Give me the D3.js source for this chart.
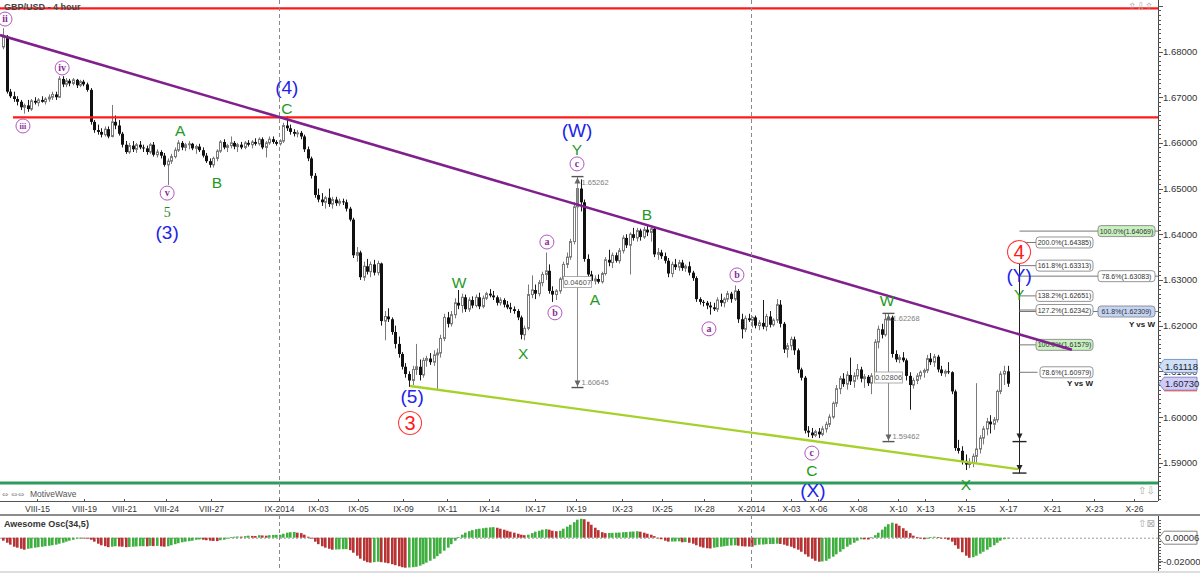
<!DOCTYPE html>
<html><head><meta charset="utf-8">
<script src="https://cdn.jsdelivr.net/npm/d3@7"></script>
<style>
body{margin:0;background:#fff;}
svg{display:block;font-family:"Liberation Sans",Arial,sans-serif;}
</style></head>
<body><svg id="c" width="1200" height="573"></svg>
<script>
// ---------------- DATA ----------------
// 4-hour candles [open, high, low, close]
const candles = [
[1.6810,1.6851,1.6805,1.6832],[1.6832,1.6836,1.6708,1.6712],[1.6712,1.6718,1.6698,1.6702],[1.6702,1.6712,1.6690,1.6696],[1.6696,1.6702,1.6682,1.6690],[1.6690,1.6694,1.6672,1.6678],
[1.6678,1.6686,1.6664,1.6682],[1.6682,1.6694,1.6668,1.6674],[1.6674,1.6696,1.6670,1.6692],[1.6692,1.6700,1.6684,1.6688],[1.6688,1.6698,1.6680,1.6694],[1.6694,1.6702,1.6688,1.6690],
[1.6690,1.6700,1.6684,1.6696],[1.6696,1.6706,1.6690,1.6700],[1.6700,1.6712,1.6694,1.6706],[1.6706,1.6712,1.6694,1.6700],[1.6700,1.6746,1.6698,1.6740],[1.6740,1.6746,1.6722,1.6728],
[1.6728,1.6742,1.6722,1.6736],[1.6736,1.6740,1.6724,1.6730],[1.6730,1.6742,1.6726,1.6738],[1.6738,1.6740,1.6720,1.6726],[1.6726,1.6738,1.6722,1.6734],[1.6734,1.6738,1.6724,1.6728],
[1.6728,1.6732,1.6712,1.6716],[1.6716,1.6720,1.6640,1.6646],[1.6646,1.6650,1.6622,1.6628],[1.6628,1.6640,1.6618,1.6624],[1.6624,1.6632,1.6612,1.6618],[1.6618,1.6636,1.6614,1.6630],
[1.6630,1.6636,1.6610,1.6614],[1.6614,1.6683,1.6612,1.6646],[1.6646,1.6660,1.6630,1.6638],[1.6638,1.6650,1.6616,1.6620],[1.6620,1.6624,1.6590,1.6596],[1.6596,1.6604,1.6576,1.6580],
[1.6580,1.6600,1.6576,1.6594],[1.6594,1.6604,1.6580,1.6586],[1.6586,1.6600,1.6578,1.6596],[1.6596,1.6604,1.6586,1.6590],[1.6590,1.6596,1.6580,1.6588],[1.6588,1.6594,1.6574,1.6580],
[1.6580,1.6600,1.6576,1.6596],[1.6596,1.6602,1.6570,1.6574],[1.6574,1.6586,1.6568,1.6580],[1.6580,1.6584,1.6566,1.6572],[1.6572,1.6578,1.6548,1.6552],[1.6552,1.6566,1.6508,1.6560],
[1.6560,1.6576,1.6554,1.6570],[1.6570,1.6590,1.6566,1.6584],[1.6584,1.6606,1.6580,1.6600],[1.6600,1.6604,1.6584,1.6590],[1.6590,1.6600,1.6582,1.6596],[1.6596,1.6604,1.6586,1.6598],
[1.6598,1.6600,1.6584,1.6588],[1.6588,1.6596,1.6576,1.6592],[1.6592,1.6598,1.6580,1.6584],[1.6584,1.6590,1.6568,1.6572],[1.6572,1.6578,1.6556,1.6560],[1.6560,1.6566,1.6546,1.6552],
[1.6552,1.6570,1.6546,1.6566],[1.6566,1.6586,1.6560,1.6582],[1.6582,1.6606,1.6578,1.6602],[1.6602,1.6608,1.6586,1.6590],[1.6590,1.6598,1.6580,1.6594],[1.6594,1.6614,1.6588,1.6600],
[1.6600,1.6604,1.6586,1.6592],[1.6592,1.6600,1.6580,1.6596],[1.6596,1.6602,1.6586,1.6590],[1.6590,1.6604,1.6586,1.6600],[1.6600,1.6606,1.6592,1.6596],[1.6596,1.6606,1.6588,1.6602],
[1.6602,1.6610,1.6594,1.6598],[1.6598,1.6612,1.6594,1.6608],[1.6608,1.6612,1.6586,1.6590],[1.6590,1.6604,1.6568,1.6600],[1.6600,1.6614,1.6596,1.6608],[1.6608,1.6614,1.6598,1.6602],
[1.6602,1.6606,1.6594,1.6598],[1.6598,1.6608,1.6594,1.6604],[1.6604,1.6644,1.6600,1.6638],[1.6638,1.6658,1.6626,1.6632],[1.6632,1.6640,1.6618,1.6624],[1.6624,1.6630,1.6614,1.6620],
[1.6620,1.6628,1.6612,1.6622],[1.6622,1.6626,1.6608,1.6614],[1.6614,1.6618,1.6580,1.6586],[1.6586,1.6592,1.6560,1.6566],[1.6566,1.6570,1.6522,1.6528],[1.6528,1.6534,1.6480,1.6486],
[1.6486,1.6500,1.6470,1.6476],[1.6476,1.6490,1.6462,1.6470],[1.6470,1.6484,1.6456,1.6480],[1.6480,1.6500,1.6460,1.6466],[1.6466,1.6482,1.6456,1.6476],[1.6476,1.6482,1.6462,1.6468],
[1.6468,1.6478,1.6462,1.6472],[1.6472,1.6478,1.6464,1.6470],[1.6470,1.6476,1.6450,1.6456],[1.6456,1.6460,1.6428,1.6432],[1.6432,1.6436,1.6348,1.6354],[1.6354,1.6372,1.6340,1.6360],
[1.6360,1.6364,1.6300,1.6306],[1.6306,1.6340,1.6298,1.6330],[1.6330,1.6346,1.6312,1.6318],[1.6318,1.6340,1.6306,1.6334],[1.6334,1.6344,1.6310,1.6316],[1.6316,1.6342,1.6310,1.6336],
[1.6336,1.6338,1.6200,1.6210],[1.6210,1.6232,1.6168,1.6220],[1.6220,1.6238,1.6208,1.6214],[1.6214,1.6218,1.6180,1.6186],[1.6186,1.6200,1.6150,1.6160],[1.6160,1.6176,1.6130,1.6138],
[1.6138,1.6142,1.6104,1.6110],[1.6110,1.6118,1.6086,1.6094],[1.6094,1.6100,1.6066,1.6080],[1.6080,1.6112,1.6070,1.6104],[1.6104,1.6160,1.6092,1.6110],[1.6110,1.6126,1.6080,1.6092],
[1.6092,1.6130,1.6086,1.6124],[1.6124,1.6134,1.6110,1.6128],[1.6128,1.6140,1.6114,1.6120],[1.6120,1.6146,1.6112,1.6136],[1.6136,1.6150,1.6060,1.6140],[1.6140,1.6180,1.6130,1.6172],
[1.6172,1.6226,1.6166,1.6218],[1.6218,1.6230,1.6196,1.6204],[1.6204,1.6232,1.6198,1.6224],[1.6224,1.6260,1.6216,1.6250],[1.6250,1.6278,1.6236,1.6244],[1.6244,1.6270,1.6228,1.6262],
[1.6262,1.6268,1.6230,1.6236],[1.6236,1.6262,1.6230,1.6256],[1.6256,1.6264,1.6238,1.6244],[1.6244,1.6268,1.6240,1.6262],[1.6262,1.6272,1.6236,1.6242],[1.6242,1.6266,1.6238,1.6260],
[1.6260,1.6274,1.6256,1.6270],[1.6270,1.6280,1.6262,1.6266],[1.6266,1.6276,1.6256,1.6262],[1.6262,1.6266,1.6244,1.6250],[1.6250,1.6262,1.6244,1.6256],[1.6256,1.6260,1.6240,1.6246],
[1.6246,1.6254,1.6236,1.6240],[1.6240,1.6250,1.6228,1.6236],[1.6236,1.6242,1.6226,1.6232],[1.6232,1.6236,1.6212,1.6218],[1.6218,1.6222,1.6170,1.6180],[1.6180,1.6200,1.6168,1.6194],
[1.6194,1.6290,1.6190,1.6268],[1.6268,1.6310,1.6260,1.6278],[1.6278,1.6290,1.6258,1.6270],[1.6270,1.6300,1.6264,1.6294],[1.6294,1.6318,1.6286,1.6312],[1.6312,1.6360,1.6300,1.6320],
[1.6320,1.6334,1.6270,1.6276],[1.6276,1.6286,1.6252,1.6268],[1.6268,1.6280,1.6256,1.6276],[1.6276,1.6306,1.6270,1.6302],[1.6302,1.6340,1.6296,1.6334],[1.6334,1.6360,1.6326,1.6350],
[1.6350,1.6390,1.6344,1.6384],[1.6384,1.6470,1.6378,1.6460],[1.6460,1.6526,1.6440,1.6500],[1.6500,1.6520,1.6450,1.6470],[1.6470,1.6476,1.6340,1.6346],[1.6346,1.6356,1.6306,1.6312],
[1.6312,1.6320,1.6292,1.6298],[1.6298,1.6310,1.6290,1.6302],[1.6302,1.6312,1.6292,1.6296],[1.6296,1.6318,1.6292,1.6314],[1.6314,1.6350,1.6310,1.6344],[1.6344,1.6366,1.6330,1.6338],
[1.6338,1.6360,1.6326,1.6354],[1.6354,1.6360,1.6338,1.6342],[1.6342,1.6370,1.6336,1.6364],[1.6364,1.6398,1.6358,1.6392],[1.6392,1.6400,1.6370,1.6376],[1.6376,1.6404,1.6312,1.6400],
[1.6400,1.6414,1.6386,1.6392],[1.6392,1.6414,1.6384,1.6408],[1.6408,1.6412,1.6386,1.6394],[1.6394,1.6416,1.6390,1.6410],[1.6410,1.6420,1.6396,1.6404],[1.6404,1.6418,1.6384,1.6412],
[1.6412,1.6418,1.6350,1.6356],[1.6356,1.6370,1.6344,1.6360],[1.6360,1.6366,1.6346,1.6352],[1.6352,1.6360,1.6336,1.6342],[1.6342,1.6348,1.6306,1.6314],[1.6314,1.6340,1.6306,1.6334],
[1.6334,1.6346,1.6322,1.6328],[1.6328,1.6344,1.6320,1.6338],[1.6338,1.6344,1.6320,1.6326],[1.6326,1.6334,1.6318,1.6330],[1.6330,1.6340,1.6310,1.6316],[1.6316,1.6320,1.6298,1.6304],
[1.6304,1.6308,1.6252,1.6258],[1.6258,1.6262,1.6246,1.6252],[1.6252,1.6256,1.6242,1.6250],[1.6250,1.6254,1.6236,1.6244],[1.6244,1.6252,1.6224,1.6240],[1.6240,1.6250,1.6232,1.6236],
[1.6236,1.6262,1.6230,1.6256],[1.6256,1.6270,1.6242,1.6250],[1.6250,1.6262,1.6240,1.6258],[1.6258,1.6276,1.6252,1.6270],[1.6270,1.6274,1.6250,1.6258],[1.6258,1.6288,1.6254,1.6276],
[1.6276,1.6280,1.6206,1.6214],[1.6214,1.6226,1.6172,1.6192],[1.6192,1.6222,1.6186,1.6216],[1.6216,1.6226,1.6208,1.6212],[1.6212,1.6220,1.6196,1.6218],[1.6218,1.6222,1.6194,1.6200],
[1.6200,1.6212,1.6190,1.6206],[1.6206,1.6256,1.6192,1.6198],[1.6198,1.6226,1.6188,1.6220],[1.6220,1.6232,1.6196,1.6202],[1.6202,1.6216,1.6198,1.6212],[1.6212,1.6258,1.6206,1.6246],
[1.6246,1.6256,1.6196,1.6204],[1.6204,1.6208,1.6140,1.6148],[1.6148,1.6162,1.6130,1.6156],[1.6156,1.6176,1.6146,1.6170],[1.6170,1.6176,1.6136,1.6146],[1.6146,1.6150,1.6096,1.6104],
[1.6104,1.6108,1.6080,1.6086],[1.6086,1.6090,1.5964,1.5970],[1.5970,1.5980,1.5956,1.5966],[1.5966,1.5976,1.5954,1.5960],[1.5960,1.5972,1.5956,1.5968],[1.5968,1.5976,1.5954,1.5962],
[1.5962,1.5980,1.5958,1.5974],[1.5974,1.5990,1.5966,1.5984],[1.5984,1.6006,1.5978,1.6000],[1.6000,1.6034,1.5996,1.6030],[1.6030,1.6070,1.6022,1.6062],[1.6062,1.6090,1.6050,1.6084],
[1.6084,1.6096,1.6066,1.6072],[1.6072,1.6100,1.6060,1.6092],[1.6092,1.6130,1.6070,1.6078],[1.6078,1.6098,1.6064,1.6090],[1.6090,1.6116,1.6082,1.6104],[1.6104,1.6110,1.6076,1.6084],
[1.6084,1.6094,1.6064,1.6088],[1.6088,1.6092,1.6068,1.6074],[1.6074,1.6096,1.6050,1.6090],[1.6090,1.6170,1.6086,1.6164],[1.6164,1.6200,1.6150,1.6192],[1.6192,1.6204,1.6172,1.6180],
[1.6180,1.6226,1.6176,1.6214],[1.6214,1.6227,1.6206,1.6218],[1.6218,1.6222,1.6130,1.6138],[1.6138,1.6146,1.6120,1.6126],[1.6126,1.6136,1.6118,1.6130],[1.6130,1.6142,1.6120,1.6124],
[1.6124,1.6128,1.6080,1.6090],[1.6090,1.6098,1.6016,1.6070],[1.6070,1.6086,1.6062,1.6080],[1.6080,1.6096,1.6072,1.6090],[1.6090,1.6102,1.6082,1.6098],[1.6098,1.6106,1.6086,1.6102],
[1.6102,1.6136,1.6096,1.6128],[1.6128,1.6140,1.6114,1.6120],[1.6120,1.6138,1.6110,1.6132],[1.6132,1.6136,1.6098,1.6104],[1.6104,1.6112,1.6090,1.6096],[1.6096,1.6104,1.6088,1.6100],
[1.6100,1.6120,1.6094,1.6098],[1.6098,1.6100,1.6050,1.6056],[1.6056,1.6060,1.5926,1.5932],[1.5932,1.5950,1.5920,1.5926],[1.5926,1.5936,1.5896,1.5904],[1.5904,1.5918,1.5884,1.5896],
[1.5896,1.5910,1.5888,1.5900],[1.5900,1.5920,1.5890,1.5914],[1.5914,1.6074,1.5900,1.5930],[1.5930,1.5960,1.5920,1.5954],[1.5954,1.5980,1.5940,1.5974],[1.5974,1.5998,1.5960,1.5990],
[1.5990,1.6004,1.5964,1.5984],[1.5984,1.6000,1.5972,1.5994],[1.5994,1.6060,1.5988,1.6056],[1.6056,1.6100,1.6050,1.6094],[1.6094,1.6112,1.6070,1.6100],[1.6100,1.6112,1.6066,1.6073]
];

// Awesome Oscillator (34,5) values, one per candle
const aoValues = [
-0.0025,-0.0042,-0.0058,-0.0075,-0.0083,-0.0092,-0.0100,-0.0092,-0.0088,-0.0083,-0.0079,-0.0075,
-0.0071,-0.0067,-0.0063,-0.0058,-0.0050,-0.0042,-0.0033,-0.0025,-0.0017,-0.0008,-0.0004,-0.0005,
-0.0008,-0.0017,-0.0033,-0.0050,-0.0063,-0.0071,-0.0079,-0.0075,-0.0071,-0.0073,-0.0075,-0.0079,
-0.0077,-0.0075,-0.0073,-0.0071,-0.0071,-0.0072,-0.0068,-0.0070,-0.0068,-0.0072,-0.0075,-0.0071,
-0.0063,-0.0054,-0.0046,-0.0038,-0.0033,-0.0029,-0.0025,-0.0017,-0.0015,-0.0017,-0.0021,-0.0025,
-0.0027,-0.0028,-0.0021,-0.0017,-0.0008,0.0004,0.0008,0.0010,0.0009,0.0013,0.0017,0.0015,
0.0014,0.0021,0.0019,0.0017,0.0021,0.0023,0.0024,0.0025,0.0033,0.0042,0.0046,0.0048,
0.0042,0.0038,0.0025,0.0008,-0.0008,-0.0033,-0.0054,-0.0071,-0.0083,-0.0092,-0.0100,-0.0098,
-0.0097,-0.0096,-0.0095,-0.0104,-0.0125,-0.0150,-0.0175,-0.0192,-0.0204,-0.0208,-0.0204,-0.0200,
-0.0204,-0.0208,-0.0213,-0.0221,-0.0229,-0.0238,-0.0246,-0.0250,-0.0248,-0.0246,-0.0242,-0.0233,
-0.0221,-0.0208,-0.0192,-0.0175,-0.0154,-0.0133,-0.0108,-0.0083,-0.0054,-0.0025,0.0004,0.0025,
0.0042,0.0054,0.0063,0.0071,0.0075,0.0079,0.0083,0.0086,0.0088,0.0083,0.0075,0.0067,
0.0058,0.0050,0.0042,0.0033,0.0025,0.0021,0.0025,0.0038,0.0050,0.0058,0.0067,0.0071,
0.0067,0.0058,0.0054,0.0058,0.0075,0.0092,0.0108,0.0129,0.0150,0.0158,0.0154,0.0133,
0.0108,0.0083,0.0063,0.0046,0.0038,0.0039,0.0040,0.0042,0.0043,0.0046,0.0047,0.0050,
0.0052,0.0054,0.0050,0.0042,0.0033,0.0025,0.0013,0.0000,-0.0013,-0.0025,-0.0033,-0.0032,
-0.0031,-0.0030,-0.0038,-0.0036,-0.0042,-0.0050,-0.0063,-0.0075,-0.0083,-0.0088,-0.0090,-0.0083,
-0.0079,-0.0075,-0.0071,-0.0067,-0.0065,-0.0063,-0.0067,-0.0071,-0.0073,-0.0074,-0.0075,-0.0063,
-0.0058,-0.0057,-0.0054,-0.0053,-0.0052,-0.0050,-0.0052,-0.0058,-0.0067,-0.0075,-0.0088,-0.0100,
-0.0117,-0.0138,-0.0158,-0.0175,-0.0192,-0.0200,-0.0198,-0.0192,-0.0175,-0.0158,-0.0138,-0.0117,
-0.0096,-0.0075,-0.0058,-0.0042,-0.0025,-0.0013,-0.0014,-0.0015,0.0003,0.0021,0.0042,0.0067,
0.0092,0.0113,0.0125,0.0117,0.0100,0.0079,0.0058,0.0038,0.0017,0.0004,-0.0008,-0.0013,
-0.0008,0.0004,0.0008,0.0004,-0.0004,-0.0008,-0.0017,-0.0033,-0.0063,-0.0092,-0.0121,-0.0150,
-0.0167,-0.0163,-0.0150,-0.0133,-0.0117,-0.0100,-0.0079,-0.0063,-0.0042,-0.0025,-0.0013,-0.0004
];

// time axis: labels and the candle index they sit at
const dateLabels = ["VIII-15","VIII-19","VIII-21","VIII-24","VIII-27","IX-2014","IX-03","IX-05","IX-09","IX-11","IX-14","IX-17","IX-19","IX-23","IX-25","IX-28","X-2014","X-03","X-06","X-08","X-10","X-13","X-15","X-17","X-21","X-23","X-26"];
const dateIdx = [9.7,23.1,34.6,46.6,59.4,78.9,90,101.4,114.3,126.9,138.9,152,163.7,176.9,188.3,200.3,213.7,225.1,232.9,244.3,255.7,263.4,275.1,287.1,299.7,311.7,323.1];
const monthStarts = ["IX-2014","X-2014"];

// price axis
const priceTicks = [1.59,1.60,1.61,1.62,1.63,1.64,1.65,1.66,1.67,1.68];
const lastPrices = [1.61118, 1.60730];
const aoTicks = [-0.02];
const aoLast = 0.00006;

// horizontal support / resistance levels
const redLevels = [1.68946, 1.66556];
const greenLevel = 1.58556;
// trend lines [idx, price] endpoints
const purpleLine = [[-0.86,1.6836],[305.4,1.6147]];
const limeLine = [[116.3,1.6068],[290.0,1.5886]];

// measurement tools [idx, highPrice, lowPrice, label]
const measures = [[164,1.65262,1.60645,"0.04607"],[252.9,1.62268,1.59462,"0.02806"]];

// Fibonacci extension tool at idx 290.3
const fibIdx = 290.3;
const fibBase = 1.58773, fibBaseB = 1.59462;
const fibPctA = ["78.6%","100.0%","127.2%","138.2%","161.8%","200.0%"];
const fibPriceA = [1.60979,1.61579,1.62342,1.62651,1.63313,1.64385];
// level at which the tool draws each column-A line on the chart
const fibDrawA = [1.60979,1.61579,1.62342,1.62651,1.63313,1.63820];
const fibPctB = ["61.8%","78.6%","100.0%"];
const fibPriceB = [1.62309,1.63083,1.64069];

// wave labels: [text, kind, idx, price]
const waveLabels = [
["ii","circ",0.57,1.6871],["iv","circ",16.9,1.6764],["iii","circ",5.7,1.6637],["v","circ",46.9,1.6490],
["5","serif",46.9,1.6449],["(3)","blue",46.9,1.6403],["A","green",50.6,1.6628],["B","green",61.1,1.6514],
["(4)","blue",81.1,1.6722],["C","green",81.1,1.6676],["W","green",130.3,1.6295],["X","green",148.6,1.6140],
["a","circ",155.4,1.6383],["b","circ",157.7,1.6228],["(W)","blue",164,1.6627],["Y","green",164,1.6586],
["c","circ",164,1.6554],["A","green",169.1,1.6258],["B","green",184,1.6444],["a","circ",201.7,1.6193],
["b","circ",209.7,1.6311],["c","circ",231.1,1.5921],["C","green",231.1,1.5884],["(X)","blue",231.4,1.5840],
["W","green",252.6,1.6256],["X","green",275.1,1.5853],["(5)","blue",116.9,1.6044],["3","red",116.3,1.5987],
["4","red",290.3,1.6361],["(Y)","blue",290.3,1.6309],["Y","green",290.3,1.6269]
];

// ---------------- DRAW ----------------
const svg = d3.select("#c");
const AX = 1158, MAIN_B = 501, OSC_T = 515, H = 573;
const x = d3.scaleLinear().domain([0, 287]).range([3, 1007.5]);
const y = d3.scaleLinear().domain([1.59, 1.68]).range([462.7, 51.5]);
const yo = d3.scaleLinear().domain([0, -0.02]).range([537.7, 561.7]);

const defs = svg.append("defs");
defs.append("clipPath").attr("id","cm").append("rect").attr("x",0).attr("y",0).attr("width",AX).attr("height",MAIN_B);
defs.append("clipPath").attr("id","co").append("rect").attr("x",0).attr("y",OSC_T+1).attr("width",AX).attr("height",H-OSC_T);

svg.append("rect").attr("width",1200).attr("height",573).attr("fill","#fff");

const main = svg.append("g").attr("clip-path","url(#cm)");
const osc = svg.append("g").attr("clip-path","url(#co)");

// month separators
monthStarts.forEach(m => {
  const xi = Math.round(x(dateIdx[dateLabels.indexOf(m)])) + 0.5;
  [[0,MAIN_B],[OSC_T,H]].forEach(([a,b]) =>
    svg.append("line").attr("x1",xi).attr("x2",xi).attr("y1",a).attr("y2",b)
      .attr("stroke","#8a8a8a").attr("stroke-dasharray","4,3").attr("stroke-width",1));
});

// candles
const cg = main.append("g");
candles.forEach((d,i) => {
  const [o,h,l,c] = d;
  const cx = Math.round(x(i));
  const up = c >= o;
  cg.append("line").attr("x1",cx+0.5).attr("x2",cx+0.5).attr("y1",y(h)).attr("y2",y(l))
    .attr("stroke", up ? "#7a7a7a" : "#1a1a1a").attr("stroke-width",1);
  const top = y(Math.max(o,c)), bot = y(Math.min(o,c));
  const hh = Math.max(1, bot-top);
  if (up) {
    cg.append("rect").attr("x",cx-0.5).attr("y",top).attr("width",2).attr("height",hh)
      .attr("fill","#fff").attr("stroke","#7a7a7a").attr("stroke-width",1);
  } else {
    cg.append("rect").attr("x",cx-1).attr("y",top).attr("width",3).attr("height",hh).attr("fill","#111");
  }
});

// horizontal levels
redLevels.forEach((p,k) => main.append("line").attr("x1", k===0 ? 0 : 13).attr("x2",AX)
  .attr("y1",y(p)).attr("y2",y(p)).attr("stroke","#ff1a1a").attr("stroke-width",2.2));
main.append("line").attr("x1",0).attr("x2",AX).attr("y1",y(greenLevel)).attr("y2",y(greenLevel))
  .attr("stroke","#2e9b5c").attr("stroke-width",3.2);

// measurement tools
function arrowHead(g, cx, yy, dir, col){
  g.append("path").attr("d",`M${cx},${yy} L${cx-3},${yy-dir*6} L${cx+3},${yy-dir*6} Z`).attr("fill",col);
}
measures.forEach(([mi,hp,lp,lab]) => {
  const cx = Math.round(x(mi)) + 0.5, yt = y(hp), yb = y(lp);
  const g = main.append("g");
  g.append("line").attr("x1",cx).attr("x2",cx).attr("y1",yt).attr("y2",yb).attr("stroke","#8c8c8c");
  g.append("line").attr("x1",cx-6).attr("x2",cx+6).attr("y1",yt).attr("y2",yt).attr("stroke","#555").attr("stroke-width",1.4);
  g.append("line").attr("x1",cx-6).attr("x2",cx+6).attr("y1",yb).attr("y2",yb).attr("stroke","#555").attr("stroke-width",1.4);
  arrowHead(g,cx,yt+1,-1,"#666");
  arrowHead(g,cx,yb-1,1,"#666");
  g.append("text").attr("x",cx+4).attr("y",yt+8).text(hp.toFixed(5)).attr("font-size",7.5).attr("fill","#808080");
  g.append("text").attr("x",cx+4).attr("y",yb-3).text(lp.toFixed(5)).attr("font-size",7.5).attr("fill","#808080");
  const ym = (yt+yb)/2;
  g.append("rect").attr("x",cx-14).attr("y",ym-5.5).attr("width",28).attr("height",11)
    .attr("fill","#fff").attr("stroke","#999").attr("stroke-width",0.8);
  g.append("text").attr("x",cx).attr("y",ym+3).attr("text-anchor","middle").text(lab)
    .attr("font-size",7.5).attr("fill","#555");
});

// Fibonacci tool
const fx = Math.round(x(fibIdx)) + 0.5;
const fg = main.append("g");
const fTop = y(d3.max(fibDrawA)), fBot = y(fibBase);
fg.append("line").attr("x1",fx).attr("x2",fx).attr("y1",fTop).attr("y2",fBot).attr("stroke","#222").attr("stroke-width",1);
[[fBot,1],[y(fibBaseB),1]].forEach(([yy,dir]) => {
  fg.append("line").attr("x1",fx-7).attr("x2",fx+7).attr("y1",yy).attr("y2",yy).attr("stroke","#222").attr("stroke-width",1.4);
  arrowHead(fg,fx,yy-2,dir,"#222");
});
fg.append("line").attr("x1",fx-6).attr("x2",fx+6).attr("y1",fTop).attr("y2",fTop).attr("stroke","#222").attr("stroke-width",1.4);
arrowHead(fg,fx,fTop+1,-1,"#222");

function fibLabel(g, lx, yy, s, fill, stroke, w){
  g.append("rect").attr("x",lx).attr("y",yy-5.5).attr("width",w).attr("height",11).attr("rx",3)
    .attr("fill",fill).attr("stroke",stroke).attr("stroke-width",0.9);
  g.append("text").attr("x",lx+w/2).attr("y",yy+2.6).attr("text-anchor","middle").text(s)
    .attr("font-size",7).attr("fill","#333");
}
fibPriceB.forEach((p,k) => {
  const yy = y(p);
  fg.append("line").attr("x1",fx).attr("x2",AX).attr("y1",yy).attr("y2",yy).attr("stroke","#777").attr("stroke-width",1);
});
fibDrawA.forEach((p,k) => {
  const yy = y(p);
  fg.append("line").attr("x1",fx).attr("x2",fx+18).attr("y1",yy).attr("y2",yy).attr("stroke","#777").attr("stroke-width",1);
});
fibPriceB.forEach((p,k) => {
  const pct = fibPctB[k];
  const fill = pct==="100.0%" ? "#c8f0c0" : (pct==="61.8%" ? "#c4d4f4" : "#fff");
  fibLabel(fg, 1098, y(p), `${pct}(${p.toFixed(5)})`, fill, "#8a8a8a", 57);
});
fibPriceA.forEach((p,k) => {
  const pct = fibPctA[k];
  const fill = pct==="100.0%" ? "#c8f0c0" : "#fff";
  const w = pct.length===5 ? 53 : 57;
  fibLabel(fg, 1093-w, y(fibDrawA[k]), `${pct}(${p.toFixed(5)})`, fill, "#8a8a8a", w);
});
fg.append("text").attr("x",1155).attr("y",y(d3.min(fibPriceB))+15).attr("text-anchor","end")
  .text("Y vs W").attr("font-size",8).attr("font-weight","bold").attr("fill","#222");
fg.append("text").attr("x",1093).attr("y",y(d3.min(fibDrawA))+14).attr("text-anchor","end")
  .text("Y vs W").attr("font-size",8).attr("font-weight","bold").attr("fill","#222");

// trend lines (drawn over the tool labels)
main.append("line").attr("x1",x(purpleLine[0][0])).attr("y1",y(purpleLine[0][1]))
  .attr("x2",x(purpleLine[1][0])).attr("y2",y(purpleLine[1][1]))
  .attr("stroke","#80208c").attr("stroke-width",2.6);
main.append("line").attr("x1",x(limeLine[0][0])).attr("y1",y(limeLine[0][1]))
  .attr("x2",x(limeLine[1][0])).attr("y2",y(limeLine[1][1]))
  .attr("stroke","#a6d12a").attr("stroke-width",2.4);

// wave labels
const wg = main.append("g");
waveLabels.forEach(([t,kind,i,p]) => {
  const cx = x(i), cy = y(p);
  if (kind === "circ") {
    wg.append("circle").attr("cx",cx).attr("cy",cy).attr("r",7).attr("fill","#fff").attr("stroke","#b255c2").attr("stroke-width",1);
    wg.append("text").attr("x",cx).attr("y",cy+3.3).attr("text-anchor","middle").text(t)
      .attr("font-family","'Liberation Serif',serif").attr("font-weight","bold").attr("font-size",t.length>2?8:10).attr("fill","#8b2a9b");
  } else if (kind === "red") {
    wg.append("circle").attr("cx",cx).attr("cy",cy).attr("r",11.5).attr("fill","#fff").attr("stroke","#ff3a3a").attr("stroke-width",1.1);
    wg.append("text").attr("x",cx).attr("y",cy+7).attr("text-anchor","middle").text(t)
      .attr("font-size",20).attr("fill","#ff1a1a");
  } else if (kind === "blue") {
    wg.append("text").attr("x",cx).attr("y",cy+6.5).attr("text-anchor","middle").text(t)
      .attr("font-size",19).attr("fill","#2323e8");
  } else if (kind === "green") {
    wg.append("text").attr("x",cx).attr("y",cy+5.5).attr("text-anchor","middle").text(t)
      .attr("font-size",15.5).attr("fill","#1f9a1f");
  } else if (kind === "serif") {
    wg.append("text").attr("x",cx).attr("y",cy+5).attr("text-anchor","middle").text(t)
      .attr("font-family","'Liberation Serif',serif").attr("font-size",14).attr("fill","#1f8a1f");
  }
});

// title & overlay texts
svg.append("text").attr("x",4).attr("y",10).text("GBP/USD - 4 hour").attr("font-size",9).attr("font-weight","bold").attr("fill","#444");
svg.append("text").attr("x",2).attr("y",497).text("⇔ ⇔⇔").attr("font-family","'DejaVu Sans',sans-serif").attr("font-size",8).attr("fill","#999");
svg.append("text").attr("x",30).attr("y",497).text("MotiveWave").attr("font-size",8.5).attr("fill","#555");
svg.append("text").attr("x",1128).attr("y",10).text("⇧⇩⇧").attr("font-family","'DejaVu Sans',sans-serif").attr("font-size",10).attr("fill","#aaa");
svg.append("text").attr("x",1138).attr("y",494).text("⇧⇩").attr("font-family","'DejaVu Sans',sans-serif").attr("font-size",10).attr("fill","#aaa");
svg.append("text").attr("x",1138).attr("y",527).text("⇧⊠").attr("font-family","'DejaVu Sans',sans-serif").attr("font-size",10).attr("fill","#aaa");

// ---- right price axis ----
const ax = svg.append("g");
ax.append("line").attr("x1",AX+0.5).attr("x2",AX+0.5).attr("y1",0).attr("y2",MAIN_B).attr("stroke","#444");
d3.range(1580,1691).forEach(k => {
  const p = k/1000, yy = Math.round(y(p))+0.5;
  if (yy < 2 || yy > MAIN_B-1) return;
  const major = k % 10 === 0;
  ax.append("line").attr("x1",AX).attr("x2",AX+(major?5:3)).attr("y1",yy).attr("y2",yy).attr("stroke","#555");
});
priceTicks.forEach(p => {
  ax.append("text").attr("x",AX+5).attr("y",y(p)+3.5).text(p.toFixed(5)).attr("font-size",9.5).attr("fill","#333");
});
// last price tags
const tagStyle = [["#cfe0f6","#6d8fbf"],["#cfcdf8","#7b7bc0"]];
lastPrices.forEach((p,k) => {
  const yy = y(p);
  ax.append("path").attr("d",`M${AX+1},${yy} L${AX+6},${yy-6.5} L1197,${yy-6.5} L1197,${yy+6.5} L${AX+6},${yy+6.5} Z`)
    .attr("fill",tagStyle[k][0]).attr("stroke",tagStyle[k][1]).attr("stroke-width",0.9);
  ax.append("text").attr("x",AX+7).attr("y",yy+3.6).text(p.toFixed(5)).attr("font-size",9.5).attr("fill","#223");
  if (k===1) ax.append("line").attr("x1",AX+6).attr("x2",1197).attr("y1",yy+7.2).attr("y2",yy+7.2).attr("stroke","#e05050").attr("stroke-width",1);
});

// ---- time axis ----
const tg = svg.append("g");
tg.append("line").attr("x1",0).attr("x2",AX).attr("y1",MAIN_B+0.5).attr("y2",MAIN_B+0.5).attr("stroke","#555");
tg.append("rect").attr("x",0).attr("y",OSC_T-1).attr("width",1200).attr("height",2).attr("fill","#8c8c8c");
dateLabels.forEach((s,k) => {
  const xx = Math.round(x(dateIdx[k]))+0.5;
  tg.append("line").attr("x1",xx).attr("x2",xx).attr("y1",MAIN_B-2).attr("y2",MAIN_B+1).attr("stroke","#555");
  tg.append("text").attr("x",xx).attr("y",MAIN_B+11).attr("text-anchor","middle").text(s).attr("font-size",8.5).attr("fill","#333");
});

// ---- oscillator ----
osc.append("line").attr("x1",0).attr("x2",AX).attr("y1",yo(0)+0.5).attr("y2",yo(0)+0.5)
  .attr("stroke","#999").attr("stroke-dasharray","2,2");
aoValues.forEach((v,i) => {
  const up = i===0 ? false : v >= aoValues[i-1];
  const y0 = yo(0), y1 = yo(v);
  osc.append("rect").attr("x",Math.round(x(i))-1).attr("y",Math.min(y0,y1)).attr("width",2.6)
    .attr("height",Math.max(0.8,Math.abs(y1-y0))).attr("fill", up ? "#3fb03f" : "#b83434");
});
svg.append("text").attr("x",4).attr("y",527).text("Awesome Osc(34,5)").attr("font-size",9).attr("font-weight","bold").attr("fill","#333");
svg.append("line").attr("x1",AX+0.5).attr("x2",AX+0.5).attr("y1",OSC_T+1).attr("y2",H).attr("stroke","#444");
d3.range(-0.03,0.025,0.0025).forEach(v => {
  const yy = Math.round(yo(v))+0.5;
  if (yy < OSC_T+3 || yy > H) return;
  svg.append("line").attr("x1",AX).attr("x2",AX+3).attr("y1",yy).attr("y2",yy).attr("stroke","#555");
});
aoTicks.forEach(v => {
  svg.append("line").attr("x1",AX).attr("x2",AX+5).attr("y1",yo(v)).attr("y2",yo(v)).attr("stroke","#555");
  svg.append("text").attr("x",AX+5).attr("y",yo(v)+3.5).text(v.toFixed(5)).attr("font-size",9.5).attr("fill","#333");
});
{
  const yy = yo(0);
  svg.append("path").attr("d",`M${AX+1},${yy} L${AX+6},${yy-6.5} L1197,${yy-6.5} L1197,${yy+6.5} L${AX+6},${yy+6.5} Z`)
    .attr("fill","#fff").attr("stroke","#777").attr("stroke-width",0.9);
  svg.append("text").attr("x",AX+7).attr("y",yy+3.6).text(aoLast.toFixed(5)).attr("font-size",9.5).attr("fill","#333");
}
svg.append("rect").attr("x",0).attr("y",571).attr("width",1200).attr("height",2).attr("fill","#ddd");
</script>
</body></html>
